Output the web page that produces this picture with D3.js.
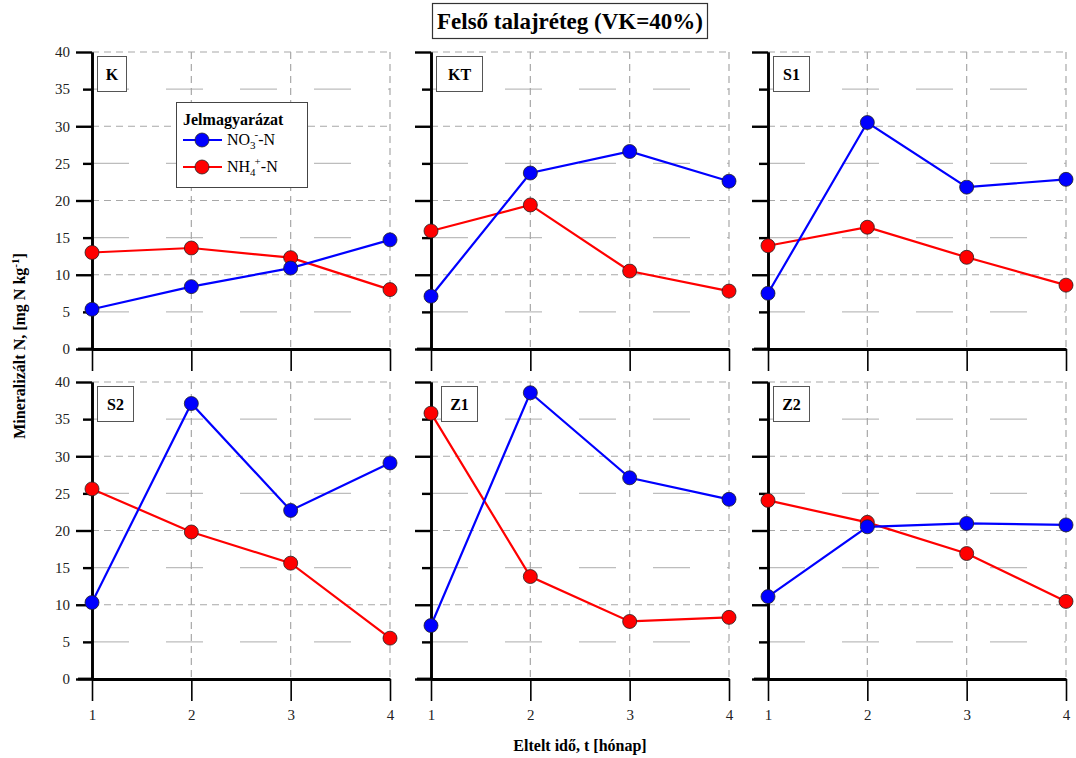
<!DOCTYPE html>
<html><head><meta charset="utf-8">
<script src="https://cdn.jsdelivr.net/npm/d3@7"></script>
<style>
body{margin:0;background:#fff;}
svg, svg text{font-family:"Liberation Serif","Times New Roman",serif;}
</style></head>
<body><svg id="c" width="1076" height="758"></svg>
<script>
const panels = ["K","KT","S1","S2","Z1","Z2"];
const months = [1,2,3,4];
const no3 = [
  [5.35, 8.4, 10.9, 14.7],
  [7.1, 23.7, 26.6, 22.6],
  [7.5, 30.5, 21.8, 22.85],
  [10.3, 37.1, 22.7, 29.1],
  [7.2, 38.55, 27.1, 24.2],
  [11.1, 20.5, 20.95, 20.75]
];
const nh4 = [
  [13.0, 13.6, 12.3, 8.0],
  [15.9, 19.4, 10.5, 7.8],
  [13.9, 16.4, 12.35, 8.6],
  [25.6, 19.8, 15.6, 5.5],
  [35.8, 13.8, 7.75, 8.3],
  [24.05, 21.1, 16.9, 10.45]
];
const majorTicks = [0,10,20,30,40];
const minorTicks = [5,15,25,35];
const title = "Felső talajréteg (VK=40%)";
const xTitle = "Eltelt idő, t [hónap]";

const svg = d3.select("#c");
const colX = [92, 431, 768];
const rowY = [52, 382];
const W = 298, H = 297;
const x = d3.scaleLinear().domain([1,4]).range([0,W]);
const y = d3.scaleLinear().domain([0,40]).range([H,0]);

const serif = '"Liberation Serif","Times New Roman",serif';

// title
const tg = svg.append("g");
tg.append("rect").attr("x",432.5).attr("y",3.5).attr("width",275).attr("height",35)
  .attr("fill","#fff").attr("stroke","#333").attr("stroke-width",1.2);
tg.append("text").attr("x",570).attr("y",29).attr("text-anchor","middle").attr("font-family",serif)
  .attr("font-size",23).attr("font-weight","bold").attr("fill","#000").text(title);

panels.forEach((name, i) => {
  const col = i % 3, row = Math.floor(i/3);
  const g = svg.append("g").attr("transform",`translate(${colX[col]},${rowY[row]})`);

  g.selectAll(".gs").data(minorTicks).join("line")
    .attr("x1",0).attr("x2",W).attr("y1",d=>y(d)).attr("y2",d=>y(d))
    .attr("stroke","#bdbdbd").attr("stroke-width",1.3).attr("stroke-dasharray","37,37");
  g.selectAll(".gd").data(majorTicks.filter(d=>d>0)).join("line")
    .attr("x1",0).attr("x2",W).attr("y1",d=>y(d)).attr("y2",d=>y(d))
    .attr("stroke","#a8a8a8").attr("stroke-width",1.2).attr("stroke-dasharray","7,5");
  g.selectAll(".gv").data(months.slice(1)).join("line")
    .attr("x1",d=>x(d)).attr("x2",d=>x(d)).attr("y1",0).attr("y2",H)
    .attr("stroke","#a8a8a8").attr("stroke-width",1.2).attr("stroke-dasharray","7,5");

  const ya = g.append("g").call(d3.axisLeft(y).tickValues(majorTicks).tickSize(16).tickSizeOuter(0)
      .tickPadding(6).tickFormat(col===0 ? d3.format("d") : ""));
  const ym = g.append("g").call(d3.axisLeft(y).tickValues(minorTicks).tickSize(9).tickSizeOuter(0)
      .tickPadding(13).tickFormat(col===0 ? d3.format("d") : ""));
  [ya, ym].forEach(a => {
    a.attr("font-family",serif);
    a.select(".domain").attr("stroke","#000").attr("stroke-width",2.6);
    a.selectAll(".tick line").attr("stroke","#000").attr("stroke-width",2.4);
    a.selectAll(".tick text").attr("font-family",serif).attr("font-size",15).attr("fill","#222");
  });

  const xa = g.append("g").attr("transform",`translate(0,${H})`)
    .call(d3.axisBottom(x).tickValues(months).tickSize(22).tickSizeOuter(0).tickPadding(8)
      .tickFormat(row===1 ? d3.format("d") : ""));
  xa.attr("font-family",serif);
  xa.select(".domain").attr("stroke","#000").attr("stroke-width",2.8);
  xa.selectAll(".tick line").attr("stroke","#000").attr("stroke-width",1.6);
  xa.selectAll(".tick text").attr("font-family",serif).attr("font-size",15).attr("fill","#222");
  g.append("line").attr("x1",-14).attr("x2",0).attr("y1",H).attr("y2",H)
    .attr("stroke","#000").attr("stroke-width",2.8);

  const bw = name.length === 1 ? 29 : (name === "KT" ? 46 : 36);
  const bx = name === "Z1" ? 10 : 5;
  g.append("rect").attr("x",bx+0.5).attr("y",4.5).attr("width",bw).attr("height",35)
    .attr("fill","#fff").attr("stroke","#555").attr("stroke-width",1);
  g.append("text").attr("x",bx+0.5+bw/2).attr("y",28).attr("text-anchor","middle").attr("font-family",serif)
    .attr("font-size",16).attr("font-weight","bold").attr("fill","#000").text(name);

  const line = d3.line().x((d,j)=>x(months[j])).y(d=>y(d));
  [[nh4[i],"#ff0000"],[no3[i],"#0000ff"]].forEach(([vals,c])=>{
    g.append("path").attr("d",line(vals)).attr("fill","none").attr("stroke",c).attr("stroke-width",2.2);
  });
  [[nh4[i],"#ff0000"],[no3[i],"#0000ff"]].forEach(([vals,c])=>{
    g.selectAll(null).data(vals).join("circle")
      .attr("cx",(d,j)=>x(months[j])).attr("cy",d=>y(d)).attr("r",7)
      .attr("fill",c).attr("stroke","#222").attr("stroke-width",0.8);
  });

  if (i === 0) {
    const lg = g.append("g").attr("transform","translate(84,50)");
    lg.append("rect").attr("x",0.5).attr("y",0.5).attr("width",131).attr("height",85)
      .attr("fill","#fff").attr("stroke","#444").attr("stroke-width",1);
    lg.append("text").attr("x",7).attr("y",23).attr("font-size",16).attr("font-weight","bold").attr("font-family",serif)
      .attr("fill","#000").text("Jelmagyarázat");
    const items = [["#0000ff","NO","3","-","-N",38],["#ff0000","NH","4","+","-N",65]];
    items.forEach(([c,a,sub,sup,tail,yy])=>{
      lg.append("line").attr("x1",7).attr("x2",46).attr("y1",yy).attr("y2",yy)
        .attr("stroke",c).attr("stroke-width",2.2);
      lg.append("circle").attr("cx",26).attr("cy",yy).attr("r",7).attr("fill",c)
        .attr("stroke","#222").attr("stroke-width",0.8);
      const t = lg.append("text").attr("x",51).attr("y",yy+5).attr("font-size",16).attr("font-family",serif).attr("fill","#000");
      t.append("tspan").text(a);
      t.append("tspan").attr("font-size",11).attr("dy",4).text(sub);
      t.append("tspan").attr("font-size",11).attr("dy",-11).attr("dx",-1).text(sup);
      t.append("tspan").attr("dy",7).text(tail);
    });
  }
});

svg.append("text").attr("transform","translate(25,346) rotate(-90)").attr("text-anchor","middle")
  .attr("font-size",16).attr("font-weight","bold").attr("font-family",serif).attr("fill","#000")
  .call(t=>{
    t.append("tspan").text("Mineralizált N, [mg N kg");
    t.append("tspan").attr("font-size",11).attr("dy",-6).text("-1");
    t.append("tspan").attr("dy",6).text("]");
  });
svg.append("text").attr("x",580).attr("y",751).attr("text-anchor","middle").attr("font-family",serif)
  .attr("font-size",16).attr("font-weight","bold").attr("fill","#000").text(xTitle);
</script>
</body></html>
